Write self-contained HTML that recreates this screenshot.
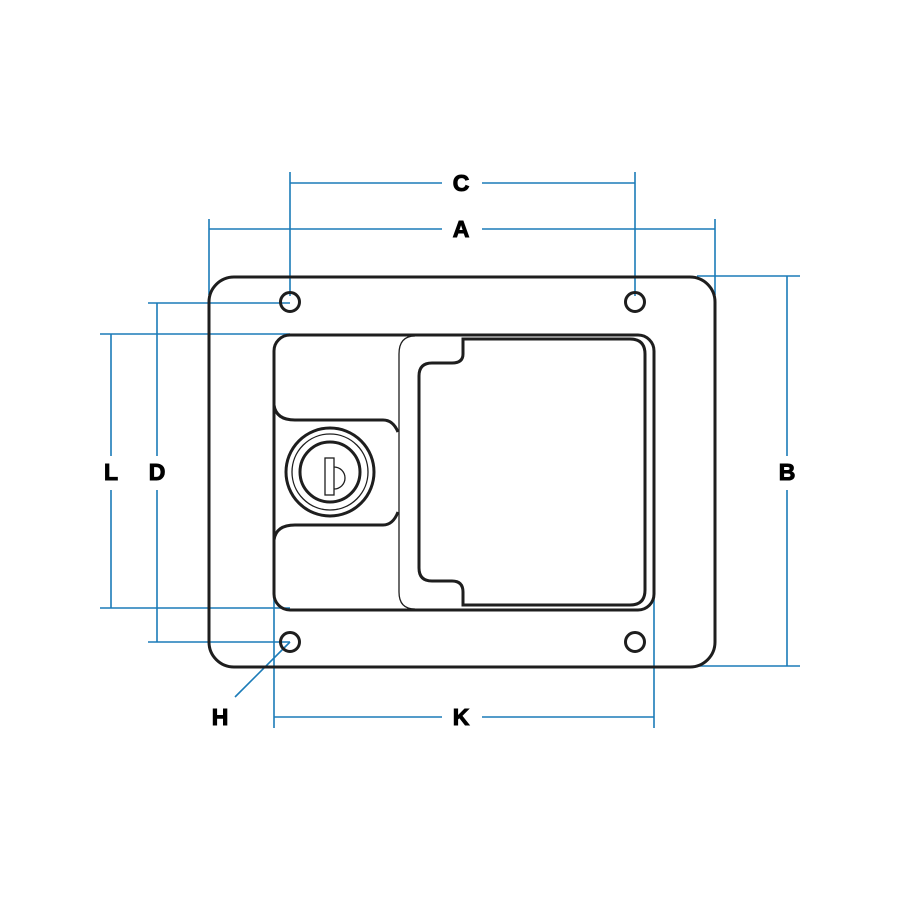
<!DOCTYPE html>
<html><head><style>html,body{margin:0;padding:0;background:#fff}svg{display:block}</style></head>
<body>
<svg width="900" height="900" viewBox="0 0 900 900" xmlns="http://www.w3.org/2000/svg">
<g stroke="#1b7bb8" stroke-width="1.6" fill="none">
<line x1="290" y1="172" x2="290" y2="296"/><line x1="635" y1="172" x2="635" y2="296"/>
<line x1="290" y1="183" x2="442" y2="183"/><line x1="482" y1="183" x2="635" y2="183"/>
<line x1="209" y1="219" x2="209" y2="295"/><line x1="715" y1="219" x2="715" y2="295"/>
<line x1="209" y1="229" x2="442" y2="229"/><line x1="482" y1="229" x2="715" y2="229"/>
<line x1="697" y1="276" x2="800" y2="276"/><line x1="697" y1="666" x2="800" y2="666"/>
<line x1="787" y1="276" x2="787" y2="456"/><line x1="787" y1="490" x2="787" y2="666"/>
<line x1="148" y1="303" x2="290" y2="303"/><line x1="148" y1="642" x2="290" y2="642"/>
<line x1="157" y1="303" x2="157" y2="456"/><line x1="157" y1="490" x2="157" y2="642"/>
<line x1="100" y1="334" x2="290" y2="334"/><line x1="100" y1="608" x2="290" y2="608"/>
<line x1="111" y1="334" x2="111" y2="456"/><line x1="111" y1="490" x2="111" y2="608"/>
<line x1="274" y1="595" x2="274" y2="728"/><line x1="654" y1="595" x2="654" y2="728"/>
<line x1="274" y1="717" x2="442" y2="717"/><line x1="482" y1="717" x2="654" y2="717"/>
<line x1="290" y1="642" x2="235" y2="697"/>
</g>
<g stroke="#1e1e1e" fill="none" stroke-width="3">
<rect x="209" y="277" width="506" height="390" rx="25"/>
<circle cx="290" cy="302" r="9.5"/><circle cx="635" cy="302" r="9.5"/>
<circle cx="290" cy="642" r="9.5"/><circle cx="635" cy="642" r="9.5"/>
<rect x="274" y="335" width="380" height="275" rx="16"/>
<path d="M463 339 L463 354 Q463 363 452 363 L432 363 Q419 363 419 376 L419 568 Q419 581 432 581 L452 581 Q463 581 463 592 L463 605 L630 605 Q645 605 645 590 L645 354 Q645 339 630 339 Z"/>
<path d="M274 405 Q276 420 295 420 L383 420 Q393 420 398 432"/>
<path d="M274 540 Q276 525 295 525 L383 525 Q393 525 398 512"/>
<circle cx="330" cy="472" r="44"/>
<circle cx="330" cy="472" r="30"/>
</g>
<g stroke="#1e1e1e" fill="none" stroke-width="1.3">
<path d="M415 336 Q399 336 399 354 L399 592 Q399 609 415 609"/>
<circle cx="330" cy="472" r="38"/>
<rect x="325" y="458" width="9" height="37"/>
<path d="M334 467 A11 11 0 0 1 334 489"/>
</g>
<g font-family="Liberation Sans, sans-serif" font-weight="bold" font-size="23" fill="#000" stroke="#000" stroke-width="1" text-anchor="middle">
<text x="461" y="191">C</text><text x="461" y="237">A</text>
<text x="787" y="480">B</text><text x="157" y="480">D</text>
<text x="111" y="480">L</text><text x="220" y="725">H</text>
<text x="461" y="725">K</text>
</g>
</svg>
</body></html>
